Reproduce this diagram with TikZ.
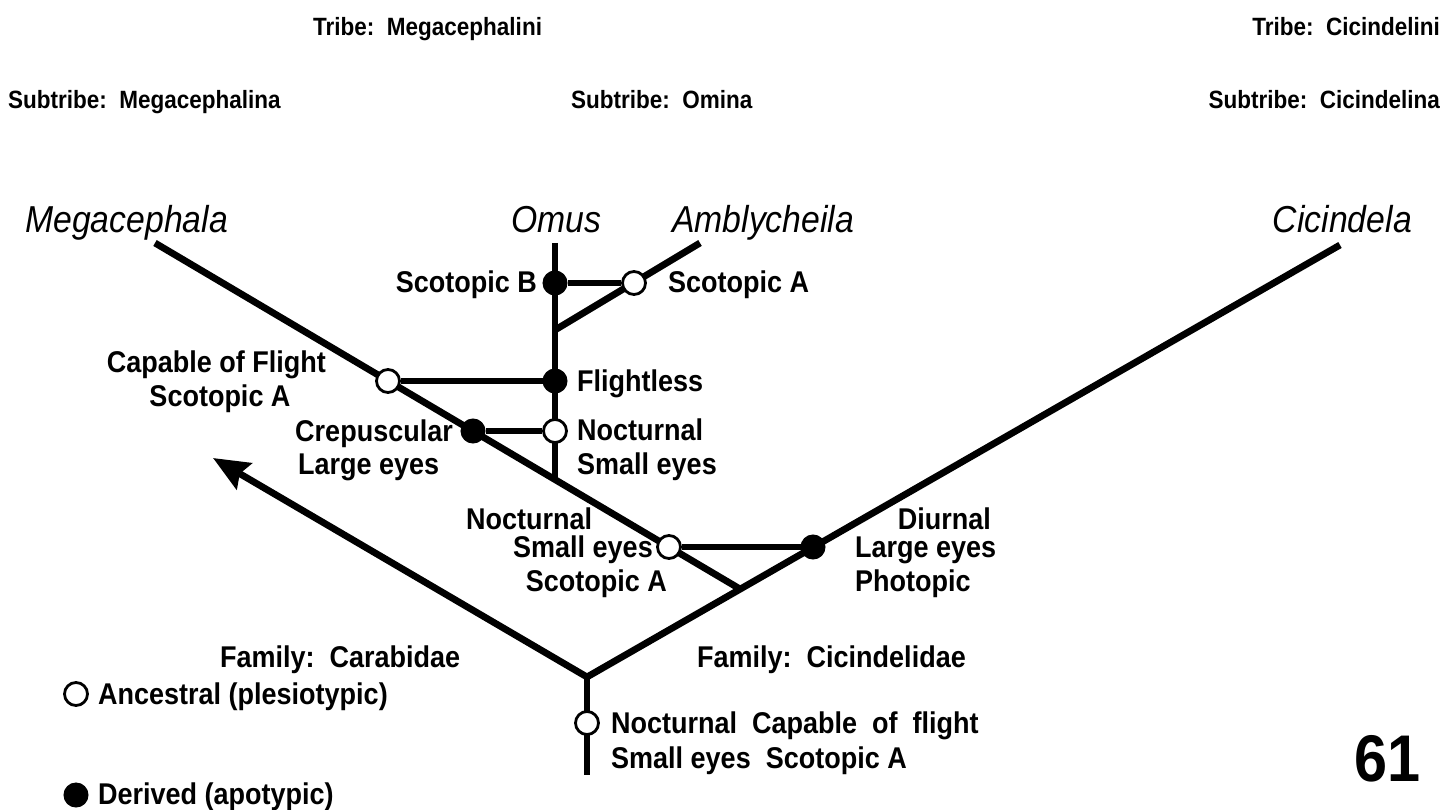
\documentclass[tikz,border=0pt]{standalone}
\usepackage{fontspec}
\setmainfont{Liberation Sans}[FakeStretch=0.9]
\usetikzlibrary{arrows.meta}
\begin{document}
\begin{tikzpicture}[x=1pt,y=-1pt,
  branch/.style={line width=6.8pt, line cap=butt},
  anc/.style={circle, draw, fill=white, line width=2.8pt, minimum size=23pt, inner sep=0pt},
  der/.style={circle, draw, fill=black, line width=1pt, minimum size=24pt, inner sep=0pt},
  lbl/.style={font=\fontsize{30}{34}\selectfont\bfseries, inner sep=0pt},
  hdr/.style={font=\fontsize{25}{29}\selectfont\bfseries, inner sep=0pt},
  taxon/.style={font=\fontsize{37.5}{42}\selectfont\itshape, inner sep=0pt},
  big/.style={font=\fontsize{66}{72}\selectfont\bfseries, inner sep=0pt}]
\useasboundingbox (0,0) rectangle (1447,810);

% headers
\node[hdr, anchor=base west] (tribeM) at (313,36) {Tribe:\ \ Megacephalini};
\node[hdr, anchor=base east] (tribeC) at (1440,36) {Tribe:\ \ Cicindelini};
\node[hdr, anchor=base west] (subM) at (8,109) {Subtribe:\ \ Megacephalina};
\node[hdr, anchor=base west] (subO) at (571,109) {Subtribe:\ \ Omina};
\node[hdr, anchor=base east] (subC) at (1440,109) {Subtribe:\ \ Cicindelina};

% taxa
\node[taxon, anchor=base west] (tMeg) at (25,233) {Megacephala};
\node[taxon, anchor=base] (tOmus) at (556,233) {Omus};
\node[taxon, anchor=base west] (tAmb) at (672,233) {Amblycheila};
\node[taxon, anchor=base east] (tCic) at (1412,233) {Cicindela};

% coordinates of the tree
\coordinate (R) at (587,677);
\coordinate (Rb) at (587,775);
\coordinate (A) at (213,458);
\coordinate (C) at (1340,245);
\coordinate (M) at (155,243);
\coordinate (J1) at (740,589);
\coordinate (O) at (555,243);
\coordinate (OJ) at (555,480);
\coordinate (AmT) at (700,243);
\coordinate (AJ) at (555,330);

% branches
\draw[branch, -{Stealth[length=36pt, width=30pt, inset=5pt]}] (R) -- (A);
\draw[branch] (R) -- (C);
\draw[branch] (M) -- (J1);
\draw[branch] (O) -- (OJ);
\draw[branch] (AmT) -- (AJ);
\draw[branch] (R) -- (Rb);

% character-state circles
\node[der] (sb) at (555,283) {};
\node[anc] (sa) at (634,283) {};
\node[der] (fl) at (555,381) {};
\node[anc] (cf) at (388,381) {};
\node[anc] (noc) at (555,431) {};
\node[der] (crep) at (473,431) {};
\node[anc] (nss) at (669,547) {};
\node[der] (diu) at (813,547) {};
\node[anc] (root) at (587,723) {};

% horizontal connectors
\draw[branch] (sb) -- (sa);
\draw[branch] (cf) -- (fl);
\draw[branch] (crep) -- (noc);
\draw[branch] (nss) -- (diu);

% labels
\node[lbl, anchor=base east] (lsb) at (537,292) {Scotopic B};
\node[lbl, anchor=base west] (lsa) at (668,292) {Scotopic A};
\node[lbl, anchor=base east] (lcf1) at (326,372) {Capable of Flight};
\node[lbl, anchor=base] (lcf2) at (220,406) {Scotopic A};
\node[lbl, anchor=base west] (lfl) at (577,391) {Flightless};
\node[lbl, anchor=base east] (lcr1) at (453,441) {Crepuscular};
\node[lbl, anchor=base west] (lcr2) at (298,474) {Large eyes};
\node[lbl, anchor=base west] (lno1) at (577,440) {Nocturnal};
\node[lbl, anchor=base west] (lno2) at (577,474) {Small eyes};
\node[lbl, anchor=base west] (lns1) at (466,529) {Nocturnal};
\node[lbl, anchor=base east] (lns2) at (653,557) {Small eyes};
\node[lbl, anchor=base east] (lns3) at (667,591) {Scotopic A};
\node[lbl, anchor=base east] (ldi1) at (991,529) {Diurnal};
\node[lbl, anchor=base west] (ldi2) at (855,557) {Large eyes};
\node[lbl, anchor=base west] (ldi3) at (855,591) {Photopic};
\node[lbl, anchor=base west] (fCar) at (220,667) {Family:\ \ Carabidae};
\node[lbl, anchor=base west] (fCic) at (697,667) {Family:\ \ Cicindelidae};
\node[lbl, anchor=base west] (lr1) at (611,733) {Nocturnal\ \ Capable\ \ of\ \ flight};
\node[lbl, anchor=base west] (lr2) at (611,768) {Small eyes\ \ Scotopic A};

% legend
\node[anc] (legA) at (76,694) {};
\node[lbl, anchor=base west] (legAt) at (98,704) {Ancestral (plesiotypic)};
\node[der] (legD) at (76,795) {};
\node[lbl, anchor=base west] (legDt) at (98,804) {Derived (apotypic)};

\node[big, anchor=base east] (num) at (1421,781) {61};
\end{tikzpicture}
\end{document}
